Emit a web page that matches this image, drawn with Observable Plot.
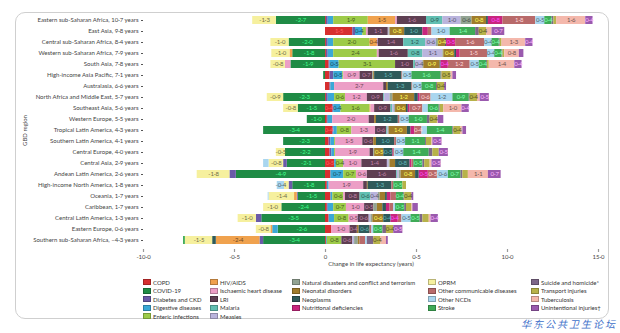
<!DOCTYPE html>
<html><head><meta charset="utf-8">
<script src="https://cdn.jsdelivr.net/npm/d3@7"></script>
<script src="https://cdn.jsdelivr.net/npm/@observablehq/plot@0.6"></script>
<style>
body{margin:0;background:#fff;width:620px;height:333px;position:relative;overflow:hidden;font-family:Lato,"Open Sans",sans-serif}
#card{position:absolute;left:15px;top:12px;width:594px;height:307px;border:1px solid #cfcfcf;border-radius:10px;box-sizing:border-box}
#chart{position:absolute;left:0;top:0}
.leg{position:absolute;font-size:6px;color:#333;white-space:nowrap;line-height:7px}
.sw{position:absolute;width:8px;height:6px;box-sizing:border-box;border:1px solid}
#wm{position:absolute;left:521px;top:318px;font-family:"Noto Sans CJK SC";font-size:10px;color:#3d6fc9;letter-spacing:2px;font-style:italic;line-height:12px}
</style></head>
<body>
<div id="card"></div>
<div id="chart"></div>
<div id="legend"></div>
<div id="wm">华东公共卫生论坛</div>
<script>
const regions = [
  "Eastern sub-Saharan Africa, 10·7 years",
  "East Asia, 9·8 years",
  "Central sub-Saharan Africa, 8·4 years",
  "Western sub-Saharan Africa, 7·9 years",
  "South Asia, 7·8 years",
  "High-income Asia Pacific, 7·1 years",
  "Australasia, 6·6 years",
  "North Africa and Middle East, 5·7 years",
  "Southeast Asia, 5·6 years",
  "Western Europe, 5·5 years",
  "Tropical Latin America, 4·3 years",
  "Southern Latin America, 4·1 years",
  "Central Europe, 4·0 years",
  "Central Asia, 2·9 years",
  "Andean Latin America, 2·6 years",
  "High-income North America, 1·8 years",
  "Oceania, 1·7 years",
  "Caribbean, 1·7 years",
  "Central Latin America, 1·3 years",
  "Eastern Europe, 0·6 years",
  "Southern sub-Saharan Africa, –4·3 years"
];
const causes = ["COPD","COVID-19","Diabetes and CKD","Digestive diseases","Enteric infections","HIV/AIDS","Ischaemic heart disease","LRI","Malaria","Measles","Natural disasters and conflict and terrorism","Neonatal disorders","Neoplasms","Nutritional deficiencies","OPRM","Other communicable diseases","Other NCDs","Stroke","Suicide and homicide*","Transport injuries","Tuberculosis","Unintentional injuries†"];
const colors = ["#d62f2f","#1f8b45","#6a5aa8","#3aa8d6","#9dcb49","#f0a24e","#ec9fc6","#5e3f52","#62bfb2","#bab4dd","#93a493","#a07c2c","#2f5a5a","#c8267e","#f6f09e","#b86a6a","#a9d6ef","#3fab57","#7d6788","#b7b24a","#f4b8ac","#9a5aae"];

// values per region, in the order of `causes`
const easternSSA     = [0.05,-2.7,0.1,0.3,1.9,1.5,0.1,1.6,0.9,1.0,0.6,0.8,0.1,0.8,-1.3,1.8,0.5,0.4,0.1,0.15,1.6,0.4];
const eastAsia       = [1.5,0,0.15,0.4,0.2,0,0.1,1.1,0,0.05,0.05,0.8,1.0,0.3,0,0.2,1.0,1.4,0.2,0.4,0.3,0.7];
const centralSSA     = [0.05,-2.0,0.1,0.3,2.0,0.4,0.05,1.4,1.2,0.6,0.1,0.4,0.05,0.5,-1.0,1.6,0.4,0.4,0.05,0.1,1.3,0.4];
const westernSSA     = [0.05,-1.8,0.1,0.3,2.4,-0.15,0.1,1.6,0.8,1.1,0.05,0.6,0.1,0.2,-1.0,1.5,0.4,0.4,0.05,0.1,0.8,0.25];
const southAsia      = [0.2,-1.9,0.05,0.5,3.1,0,-0.3,1.0,0.1,0.4,0.05,0.9,0.05,0.4,-0.8,1.2,0.5,0.4,0.05,0.1,1.4,0.4];
const hiAsiaPacific  = [0.25,-0.1,0.2,0.5,0.05,0,0.9,0.7,0,0,0.05,0.05,1.5,0,0,0.05,0.5,1.6,0.05,0.5,0.1,0.2];
const australasia    = [0.25,0,0.05,0.2,0,0,2.7,0.15,0,0,0,0.1,1.3,0,0,0.05,0.5,0.8,0.05,0.4,0,0.1];
const northAfricaME  = [0.05,-2.3,0.1,0.35,0.6,0,1.2,0.9,0.05,0.3,0.15,1.2,0.2,0.1,-0.9,0.6,1.2,0.9,0.05,0.4,0.15,0.5];
const southeastAsia  = [0.4,-1.5,0.05,0.4,1.6,0.05,0.2,0.9,0.1,0.1,0.05,0.6,0.1,0.1,-0.8,0.7,0.3,0.6,0.05,0.2,1.0,0.4];
const westernEurope  = [0.1,-1.0,0.05,0.25,0,0,2.0,0.3,0,0,0,0.1,1.2,0,0,0.1,0.5,1.0,0.15,0.4,0.05,0.3];
const tropicalLA     = [0.4,-3.4,0.05,0.2,0.8,0,1.3,0.6,0.05,0.05,0.05,1.0,0.2,0.2,0,0.4,0.3,1.4,0.05,0.4,0.1,0.2];
const southernLA     = [0.2,-2.3,0.1,0.2,0.05,0,1.5,0.6,0,0,0,0.15,1.0,0,0,0.1,0.5,1.1,0.05,0.3,0.05,0.5];
const centralEurope  = [0.25,-2.2,0.1,0.15,0.05,0,1.9,0.2,0,0,0.05,0.5,0.5,0.05,-0.5,0.05,0.5,1.4,0.2,0.35,0,0.5];
const centralAsia    = [0.5,-2.1,-0.2,0.1,0.4,0,1.0,1.4,0,0.1,0.05,0.3,0.8,0.1,-0.8,0.1,-0.3,0.5,0.1,0.3,0.1,0.5];
const andeanLA       = [0.3,-4.9,-0.35,0.7,0.7,0,0.6,1.6,0.05,0.1,0.1,0.8,0.2,0.5,-1.8,0.5,0.6,0.7,0.1,0.3,1.1,0.7];
const hiNorthAmerica = [0.1,-1.8,-0.2,0.1,0,0,1.9,0.2,0,0,0,0.05,1.3,0,-0.25,0.1,-0.4,0.5,0,0.2,0,0];
const oceania        = [0.3,-1.5,-0.05,0.1,0.6,-0.15,0.1,0.8,0.6,0.4,0.1,0.3,0.1,0.2,-1.4,0.3,-0.05,0.4,0.05,0.4,0,0.1];
const caribbean      = [0.1,-2.4,0.05,0.3,0.7,0,1.0,0.5,0,0,0.2,0.3,0.2,0.2,-1.0,0.2,0.1,0.5,0.1,0.3,0.05,0.3];
const centralLA      = [0.2,-3.5,-0.3,0.3,0.8,0,0.5,0.6,0,0.1,0.1,0.6,0.4,0.4,-1.0,0.2,0.5,0.5,0.15,0.35,0.1,0.4];
const easternEurope  = [0.35,-2.6,0,-0.3,0,-0.1,1.0,0.4,0,0,0,0.1,0.6,0,-0.8,0.1,0.1,0.5,0.2,0.4,0,0.5];
const southernSSA    = [0.05,-3.4,-0.2,0.05,0.8,-2.4,0,0.6,0,0.1,0.2,0.1,-0.2,0,-1.5,0.3,0.1,-0.1,0.35,0.4,0.3,0.1];

const xTicks = [-10, -5, 0, 5, 10, 15];
const xTickLabels = ["-10·0", "-0·5", "0", "0·5", "10·0", "15·0"];

const rows = [easternSSA, eastAsia, centralSSA, westernSSA, southAsia, hiAsiaPacific, australasia, northAfricaME, southeastAsia, westernEurope, tropicalLA, southernLA, centralEurope, centralAsia, andeanLA, hiNorthAmerica, oceania, caribbean, centralLA, easternEurope, southernSSA];

const data = regions.flatMap((r, i) => causes.map((c, j) => ({region: r, cause: c, value: rows[i][j]}))).filter(d => d.value !== 0);

const fmt = v => (v < 0 ? "-" : "") + Math.abs(v).toFixed(1).replace(".", "·");
function lum(c) {
  const {r, g, b} = d3.rgb(c);
  const f = x => { x /= 255; return x <= 0.03928 ? x / 12.92 : Math.pow((x + 0.055) / 1.055, 2.4); };
  return 0.2126 * f(r) + 0.7152 * f(g) + 0.0722 * f(b);
}
const textColor = c => lum(c) > 0.33 ? d3.color(c).darker(2.2).formatHex() : d3.color(c).brighter(2).formatHex();

const labelMarks = causes.map((c, ci) => Plot.text(data, Plot.stackX({
  x: "value", y: "region",
  text: d => d.cause === c && Math.abs(d.value) >= 0.395 ? fmt(d.value) : "",
  fill: textColor(colors[ci]), fontSize: 6
})));

const chart = Plot.plot({
  width: 620, height: 275,
  marginLeft: 143, marginRight: 22, marginTop: 11, marginBottom: 26,
  style: {fontFamily: "Lato, 'Open Sans', sans-serif", fontSize: "6px", color: "#444", background: "transparent"},
  x: {domain: [-10, 15]},
  y: {domain: regions, paddingInner: 0.27, paddingOuter: 0.12},
  color: {domain: causes, range: colors},
  marks: [
    Plot.barX(data, Plot.stackX({x: "value", y: "region", fill: "cause"})),
    ...labelMarks,
    Plot.axisX({ticks: xTicks, tickFormat: d => xTickLabels[xTicks.indexOf(d)], tickSize: 3, tickPadding: 2, line: true, stroke: "#999", strokeWidth: 1.2, label: "Change in life expectancy (years)", labelAnchor: "center", labelOffset: 16, labelArrow: "none"}),
    Plot.axisY({tickSize: 2, tickPadding: 3, line: true, stroke: "#555", label: "GBD region", labelAnchor: "center", labelOffset: 121, labelArrow: "none"})
  ]
});
document.getElementById("chart").appendChild(chart);

// legend (built from causes & colors)
const colX = [143, 210, 292, 428, 531];
const colStart = [0, 5, 10, 14, 18, 22];
const rowY = [282, 290.5, 299, 307.5, 316];
const leg = document.getElementById("legend");
causes.forEach((c, i) => {
  const col = colStart.findIndex((s, k) => i >= s && i < colStart[k + 1]);
  const row = i - colStart[col];
  const sw = document.createElement("div");
  sw.className = "sw";
  sw.style.left = colX[col] + "px";
  sw.style.top = (rowY[row] - 3) + "px";
  sw.style.background = colors[i];
  sw.style.borderColor = d3.color(colors[i]).darker(0.8).formatHex();
  leg.appendChild(sw);
  const t = document.createElement("div");
  t.className = "leg";
  t.style.left = (colX[col] + 10) + "px";
  t.style.top = (rowY[row] - 3.5) + "px";
  t.textContent = c;
  leg.appendChild(t);
});
</script>
</body></html>
